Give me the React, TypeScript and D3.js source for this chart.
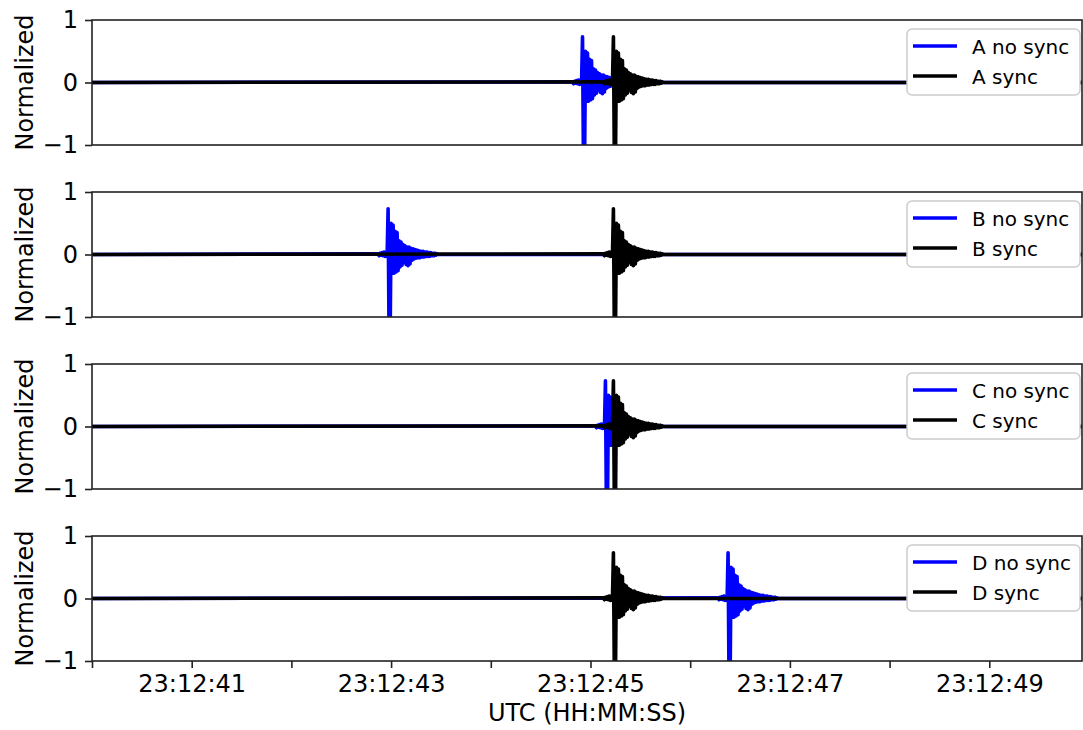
import React, { useEffect, useRef } from "react";
import * as d3 from "d3";

// station names, one panel each
const stations = ["A", "B", "C", "D"];
// time of the first peak, seconds after 23:12:40 UTC
const noSyncOnset = [4.92, 2.97, 5.15, 6.38];
const syncOnset = [5.23, 5.23, 5.23, 5.23];
// normalized trace around the first peak, one sample every 10 ms, starting 0.1 s before it
const waveStart = -0.1;
const waveStep = 0.01;
const waveform = [
  0.01, -0.02, 0.02, -0.01, 0.03, -0.02, 0.04, -0.03, 0.03, -0.03,
  0.73, -1.4, -1.4, 0.5, -0.3, 0.47, -0.3, 0.37, -0.28, 0.35,
  -0.26, 0.22, -0.2, 0.2, -0.17, 0.16, -0.12, 0.14, -0.16, 0.12,
  -0.18, 0.12, -0.15, 0.1, -0.09, 0.09, -0.07, 0.08, -0.06, 0.07,
  -0.05, 0.06, -0.05, 0.05, -0.04, 0.05, -0.04, 0.04, -0.03, 0.04,
  -0.03, 0.03, -0.03, 0.03, -0.02, 0.02, -0.02, 0.02, -0.01, 0.01, 0,
];
// recorded window, seconds after 23:12:40 UTC
const windowStart = 0;
const windowEnd = 9.93;
const baseTime = Date.UTC(2023, 0, 1, 23, 12, 40);

function trace(onset) {
  const pts = [{ t: windowStart - 0.2, v: 0 }];
  waveform.forEach((v, i) => pts.push({ t: onset + waveStart + i * waveStep, v }));
  pts.push({ t: windowEnd + 0.2, v: 0 });
  return pts.map(p => ({ date: new Date(baseTime + p.t * 1000), v: p.v }));
}

export default function App() {
  const ref = useRef(null);

  useEffect(() => {
    document.body.style.margin = "0";
    const root = d3.select(ref.current);
    root.selectAll("*").remove();

    const width = 1083;
    const height = 730;
    const marginLeft = 92;
    const marginRight = 1;
    const panelTop = 20;
    const panelStep = 172;
    const panelHeight = 125;
    const font = "DejaVu Sans, sans-serif";

    const svg = root
      .append("svg")
      .attr("width", width)
      .attr("height", height)
      .attr("viewBox", [0, 0, width, height])
      .style("display", "block")
      .style("font-family", font);

    svg.append("rect").attr("width", width).attr("height", height).attr("fill", "#fff");

    const x = d3
      .scaleUtc()
      .domain([new Date(baseTime + windowStart * 1000), new Date(baseTime + windowEnd * 1000)])
      .range([marginLeft, width - marginRight]);

    const fmt = d3.utcFormat("%H:%M:%S");

    stations.forEach((name, i) => {
      const top = panelTop + i * panelStep;
      const y = d3.scaleLinear().domain([-1, 1]).range([top + panelHeight, top]);
      const g = svg.append("g");

      const clipId = `clip-${i}`;
      svg
        .append("clipPath")
        .attr("id", clipId)
        .append("rect")
        .attr("x", marginLeft)
        .attr("y", top)
        .attr("width", width - marginRight - marginLeft)
        .attr("height", panelHeight);

      const line = d3
        .line()
        .x(d => x(d.date))
        .y(d => y(d.v));

      const series = [
        { data: trace(noSyncOnset[i]), color: "#0000ff", label: `${name} no sync` },
        { data: trace(syncOnset[i]), color: "#000000", label: `${name} sync` },
      ];

      g.append("g")
        .attr("clip-path", `url(#${clipId})`)
        .selectAll("path")
        .data(series)
        .join("path")
        .attr("d", d => line(d.data))
        .attr("fill", "none")
        .attr("stroke", d => d.color)
        .attr("stroke-width", 3.6)
        .attr("stroke-linejoin", "round");

      // frame
      g.append("rect")
        .attr("x", marginLeft)
        .attr("y", top)
        .attr("width", width - marginRight - marginLeft)
        .attr("height", panelHeight)
        .attr("fill", "none")
        .attr("stroke", "#222")
        .attr("stroke-width", 1.6);

      // y axis
      g.append("g")
        .attr("transform", `translate(${marginLeft},0)`)
        .call(
          d3
            .axisLeft(y)
            .tickValues([-1, 0, 1])
            .tickSize(7)
            .tickPadding(7)
            .tickFormat(d => (d < 0 ? `\u2212${Math.abs(d)}` : `${d}`))
        )
        .call(a => a.select(".domain").remove())
        .call(a => a.selectAll("line").attr("stroke", "#222").attr("stroke-width", 1.6))
        .call(a =>
          a
            .selectAll("text")
            .attr("fill", "#000")
            .style("font-size", "24px")
            .style("font-family", font)
        );

      g.append("text")
        .attr("transform", `translate(33,${top + panelHeight / 2}) rotate(-90)`)
        .attr("text-anchor", "middle")
        .style("font-size", "24px")
        .text("Normalized");

      // legend
      const lg = g.append("g").attr("transform", `translate(907,${top + 9})`);
      lg.append("rect")
        .attr("width", 173)
        .attr("height", 66)
        .attr("rx", 5)
        .attr("fill", "#fff")
        .attr("stroke", "#ccc")
        .attr("stroke-width", 1.5);
      series.forEach((s, j) => {
        lg.append("line")
          .attr("x1", 6)
          .attr("x2", 50)
          .attr("y1", 17 + j * 30)
          .attr("y2", 17 + j * 30)
          .attr("stroke", s.color)
          .attr("stroke-width", 3.6);
        lg.append("text")
          .attr("x", 65)
          .attr("y", 25 + j * 30)
          .style("font-size", "20px")
          .text(s.label);
      });

      // x axis on the last panel only
      if (i === stations.length - 1) {
        const ticks = x.ticks(d3.utcSecond.every(1));
        g.append("g")
          .attr("transform", `translate(0,${top + panelHeight})`)
          .call(
            d3
              .axisBottom(x)
              .tickValues(ticks)
              .tickSize(7)
              .tickPadding(7)
              .tickFormat(d => (d.getUTCSeconds() % 2 === 1 ? fmt(d) : ""))
          )
          .call(a => a.select(".domain").remove())
          .call(a => a.selectAll("line").attr("stroke", "#222").attr("stroke-width", 1.6))
          .call(a =>
            a
              .selectAll("text")
              .attr("fill", "#000")
              .style("font-size", "24px")
              .style("font-family", font)
          );

        g.append("text")
          .attr("x", (marginLeft + width - marginRight) / 2)
          .attr("y", 721)
          .attr("text-anchor", "middle")
          .style("font-size", "24px")
          .text("UTC (HH:MM:SS)");
      }
    });
  }, []);

  return <div ref={ref}></div>;
}
